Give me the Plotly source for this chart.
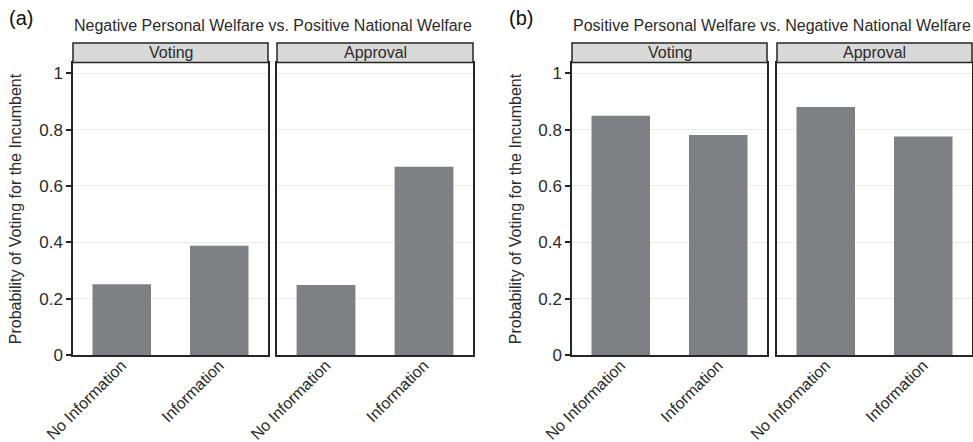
import plotly.graph_objects as go

categories = ["No Information", "Information"]
facets = ["Voting", "Approval"]
panel_titles = ["Negative Personal Welfare vs. Positive National Welfare",
                "Positive Personal Welfare vs. Negative National Welfare"]
panel_tags = ["(a)", "(b)"]
# values[panel][facet] -> [No Information, Information]
a_voting = [0.251, 0.388]
a_approval = [0.248, 0.668]
b_voting = [0.849, 0.781]
b_approval = [0.880, 0.775]
values = [[a_voting, a_approval], [b_voting, b_approval]]
y_ticks = [0, 0.2, 0.4, 0.6, 0.8, 1]
y_ticklabels = ["0", "0.2", "0.4", "0.6", "0.8", "1"]
y_label = "Probability of Voting for the Incumbent"

W, H = 973, 442
FONT = "Liberation Sans, Arial, Helvetica, sans-serif"
BAR = "rgb(127,128,132)"
BORDER = "#262626"
TXT = "#2b2b2b"

# panel pixel layout
x_px = [[(73, 268), (277, 473)], [(572, 767), (777, 972)]]
y_top, y_bot = 62.5, 355
strip_h = 19.5
y_max = 1.038

fig = go.Figure()
layout = {}
shapes = []
annotations = []
k = 0
for p in range(2):
    for f in range(2):
        k += 1
        xa = "x" if k == 1 else f"x{k}"
        ya = "y" if k == 1 else f"y{k}"
        xname = "xaxis" if k == 1 else f"xaxis{k}"
        yname = "yaxis" if k == 1 else f"yaxis{k}"
        fig.add_trace(go.Bar(
            x=categories, y=values[p][f], xaxis=xa, yaxis=ya,
            marker=dict(color=BAR, line=dict(width=0)), width=0.6,
            showlegend=False, hoverinfo="x+y"))
        x0, x1 = x_px[p][f]
        layout[xname] = dict(
            domain=[x0 / W, x1 / W], anchor=ya, type="category",
            showgrid=False, ticks="", tickangle=-45, automargin=False,
            ticklabelstandoff=-7,
            tickfont=dict(family=FONT, size=16, color=TXT),
            showline=True, mirror=True, linecolor=BORDER, linewidth=1.5,
            range=[-0.5, 1.5], fixedrange=True)
        first = (f == 0)
        layout[yname] = dict(
            domain=[1 - y_bot / H, 1 - y_top / H], anchor=xa,
            range=[0, y_max], tickvals=y_ticks, automargin=False,
            ticktext=y_ticklabels, showticklabels=first,
            ticks="outside" if first else "", ticklen=5, tickwidth=1.5,
            tickcolor=BORDER,
            tickfont=dict(family=FONT, size=17, color=TXT),
            showgrid=True, gridcolor="#ebebeb", gridwidth=1,
            zeroline=False,
            showline=True, mirror=True, linecolor=BORDER, linewidth=1.5,
            fixedrange=True)
        # strip
        dom_h = y_bot - y_top
        shapes.append(dict(type="rect", xref=f"{xa} domain", yref=f"{ya} domain",
                           x0=0, x1=1, y0=1, y1=1 + strip_h / dom_h,
                           fillcolor="#d9d9d9", line=dict(color=BORDER, width=1.5),
                           layer="above"))
        annotations.append(dict(text=facets[f], xref=f"{xa} domain", yref=f"{ya} domain",
                                x=0.5, y=1 + strip_h / 2 / dom_h, showarrow=False,
                                xanchor="center", yanchor="middle",
                                font=dict(family=FONT, size=16, color=TXT)))
    # panel title
    cx = (x_px[p][0][0] + x_px[p][1][1]) / 2
    annotations.append(dict(text=panel_titles[p], xref="paper", yref="paper",
                            x=cx / W, y=1 - 25 / H, showarrow=False,
                            xanchor="center", yanchor="middle",
                            font=dict(family=FONT, size=16, color=TXT)))
    tag_x = [7, 507][p]
    annotations.append(dict(text=panel_tags[p], xref="paper", yref="paper",
                            x=tag_x / W, y=1 - 18 / H, showarrow=False,
                            xanchor="left", yanchor="middle",
                            font=dict(family=FONT, size=20, color="#111")))
    lab_x = [15.5, 515.5][p]
    annotations.append(dict(text=y_label, xref="paper", yref="paper",
                            x=lab_x / W, y=1 - ((y_top + y_bot) / 2) / H,
                            showarrow=False, textangle=-90,
                            xanchor="center", yanchor="middle",
                            font=dict(family=FONT, size=16, color=TXT)))

fig.update_layout(**layout)
fig.update_layout(width=W, height=H, autosize=False,
                  margin=dict(l=0, r=0, t=0, b=0),
                  paper_bgcolor="white", plot_bgcolor="white",
                  shapes=shapes, annotations=annotations,
                  bargap=0.4)
fig.write_html("out.html", config={"displayModeBar": False},
               post_script="document.body.style.margin='0';document.body.style.overflow='hidden';")
